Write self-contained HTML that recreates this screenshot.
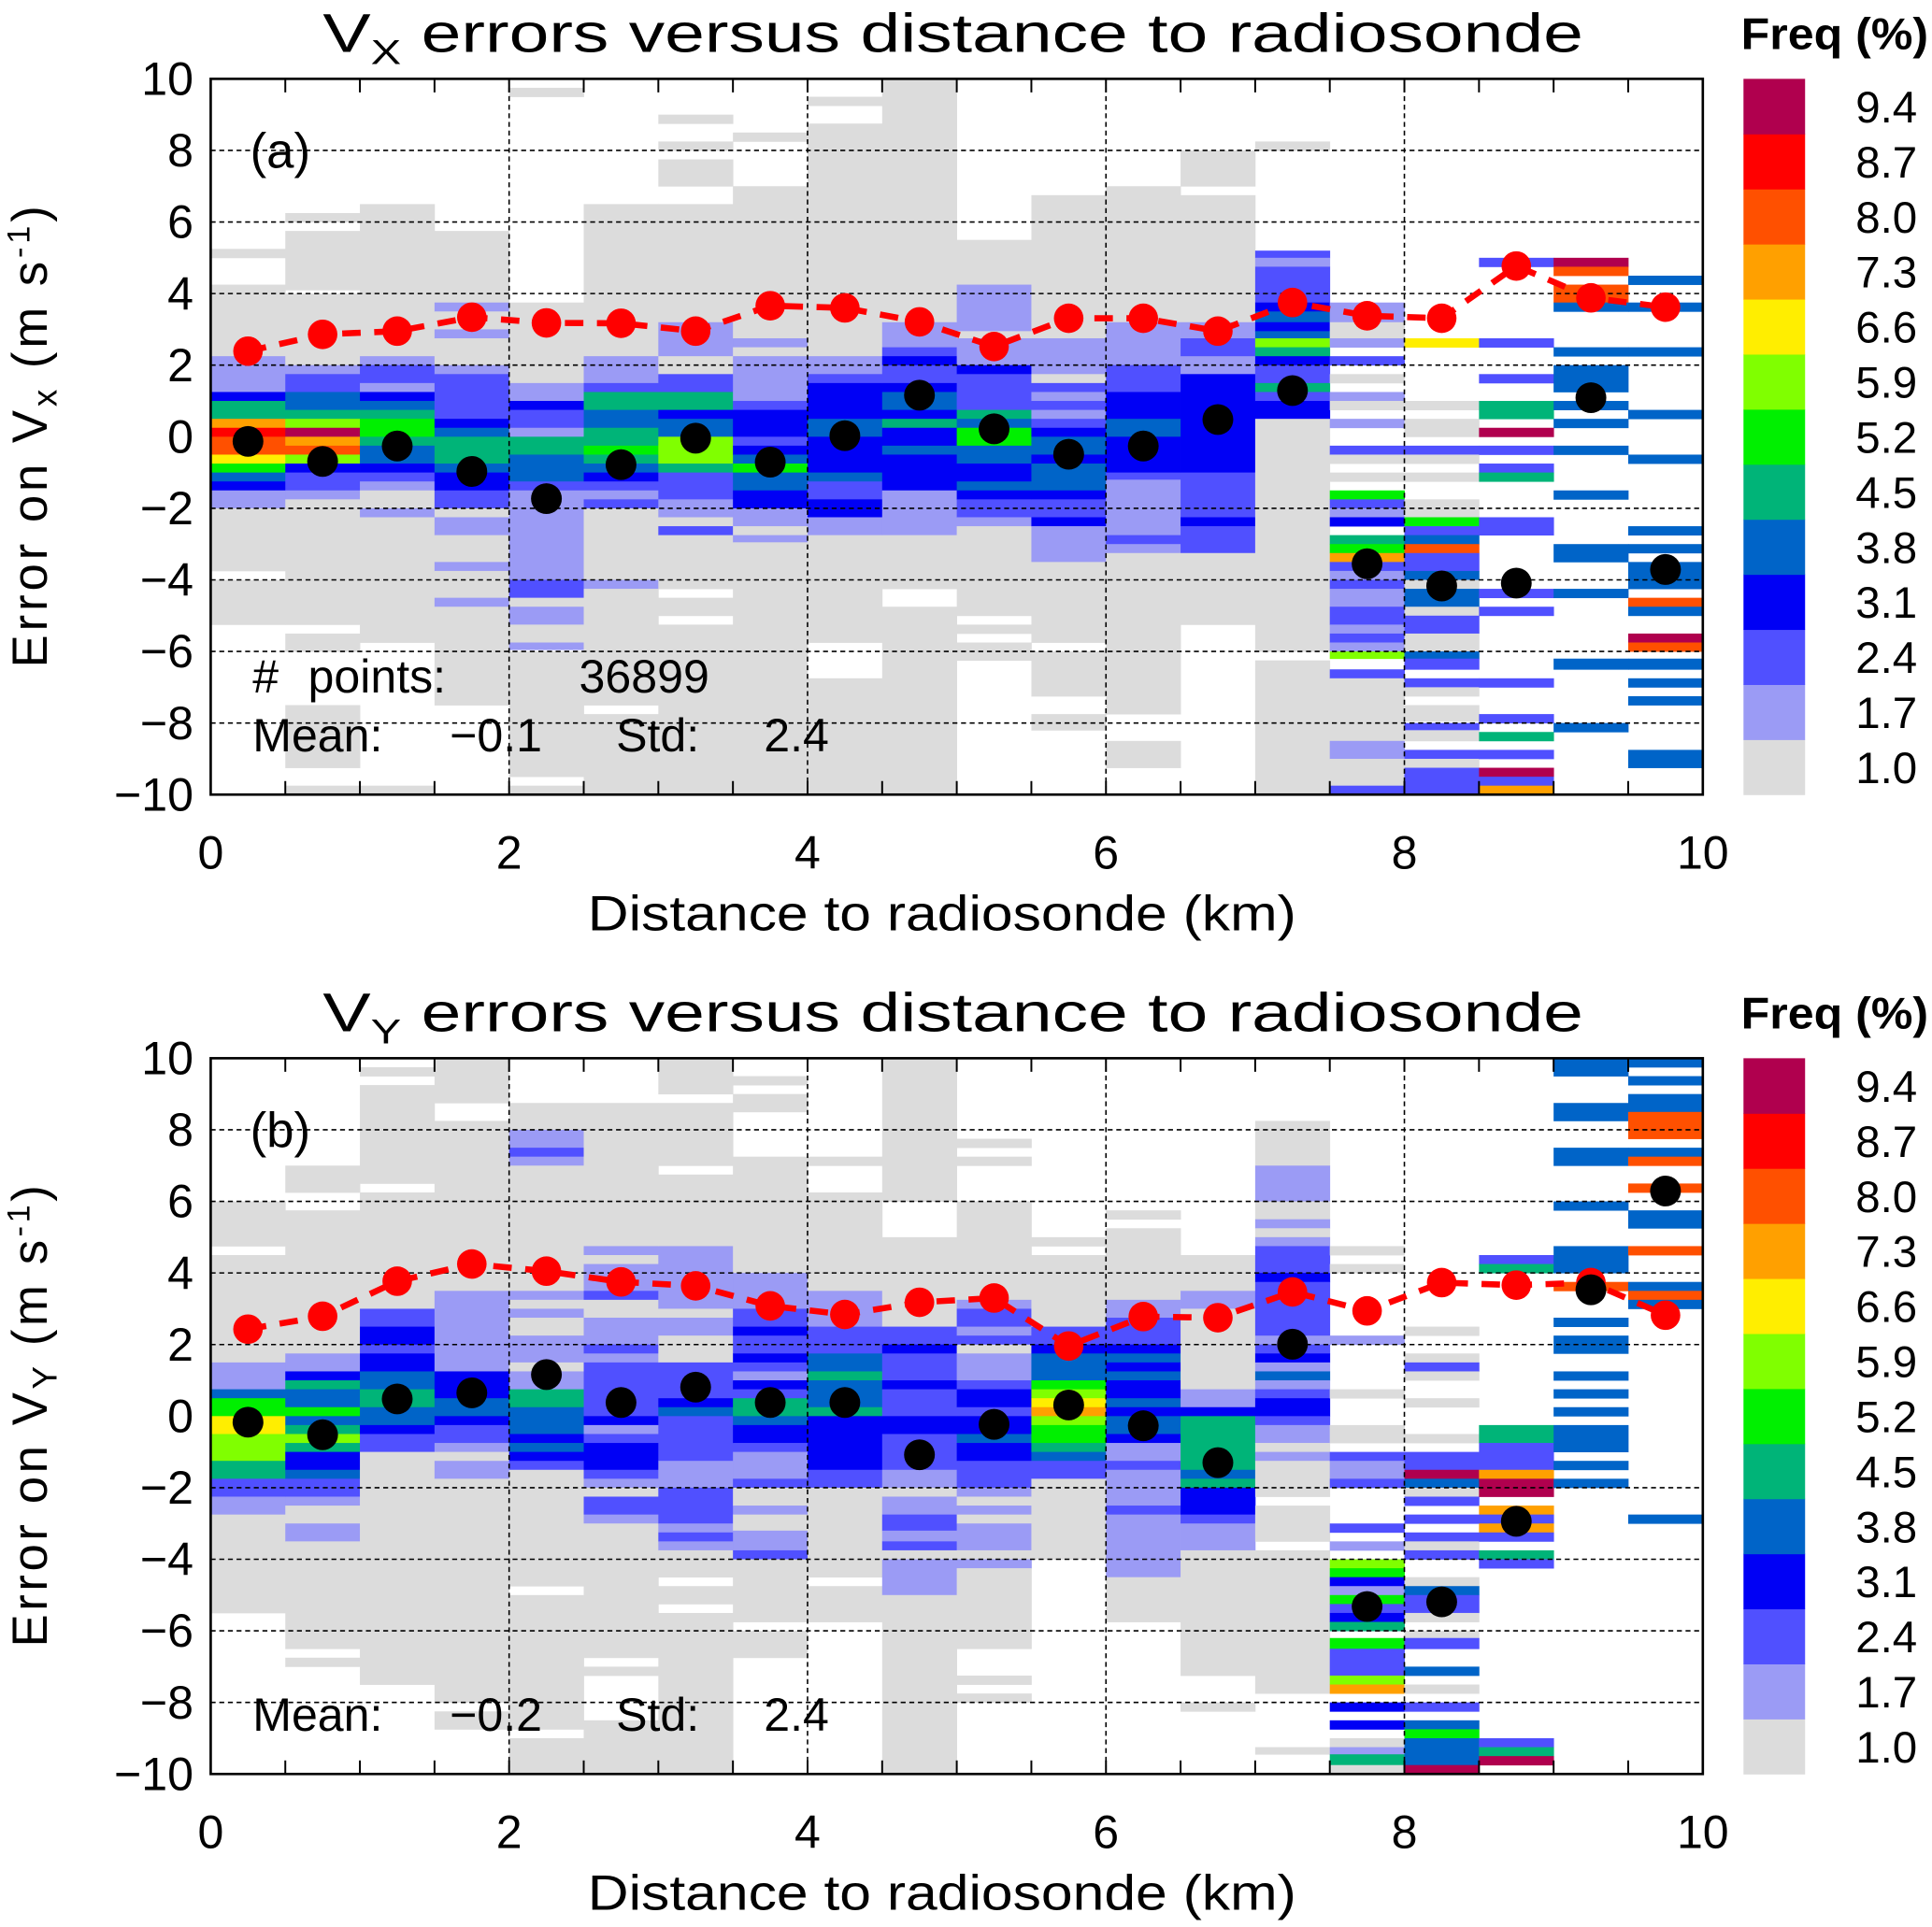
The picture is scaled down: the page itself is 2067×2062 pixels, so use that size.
<!DOCTYPE html>
<html><head><meta charset="utf-8"><style>
html,body{margin:0;padding:0;background:#fff}
svg{display:block}
text{font-family:"Liberation Sans",sans-serif;fill:#000}
</style></head><body>
<svg id="chart" width="2067" height="2062" viewBox="0 0 1568 1564.2" preserveAspectRatio="none" xmlns="http://www.w3.org/2000/svg"></svg>
<script>
// ---------------- data ----------------
const binCenters = [0.25,0.75,1.25,1.75,2.25,2.75,3.25,3.75,4.25,4.75,5.25,5.75,6.25,6.75,7.25,7.75,8.25,8.75,9.25,9.75];
const freqLabels = ["1.0","1.7","2.4","3.1","3.8","4.5","5.2","5.9","6.6","7.3","8.0","8.7","9.4"];
const xTicks = [0,2,4,6,8,10];
const yTicks = [-10,-8,-6,-4,-2,0,2,4,6,8,10];
const meanA = [-0.13,-0.69,-0.26,-0.97,-1.73,-0.78,-0.04,-0.71,0.03,1.16,0.22,-0.49,-0.26,0.48,1.29,-3.55,-4.17,-4.09,1.09,-3.71];
const stdA  = [2.39,2.86,2.95,3.34,3.18,3.17,2.95,3.66,3.6,3.21,2.52,3.31,3.31,2.95,3.75,3.38,3.31,4.77,3.88,3.62];
const meanB = [-0.17,-0.52,0.48,0.65,1.16,0.38,0.81,0.38,0.38,-1.08,-0.23,0.31,-0.27,-1.3,2.01,-5.32,-5.19,-2.94,3.53,6.29];
const stdB  = [2.43,2.79,3.77,4.25,4.05,3.75,3.64,3.08,2.84,3.18,3.3,1.96,2.78,2.75,3.47,2.94,3.73,3.66,3.73,2.82];
// runs per bin: [top, bottom, freq-level]
const cellsA = [
[[5.25,5,0],[4.25,2.25,0],[2.25,1.25,1],[1.25,1,3],[1,0.5,5],[0.5,0.25,9],[0.25,0,11],[0,-0.5,10],[-0.5,-0.75,8],[-0.75,-1,6],[-1,-1.25,4],[-1.25,-1.5,3],[-1.5,-2,1],[-2,-3.75,0],[-4,-5.25,0]],
[[6.25,6,0],[5.75,4.1,0],[4,2,0],[2,1.75,1],[1.75,1.25,2],[1.25,0.75,4],[0.75,0.5,5],[0.5,0.25,7],[0.25,0,12],[0,-0.25,9],[-0.25,-0.5,10],[-0.5,-0.75,7],[-0.75,-1,3],[-1,-1.5,2],[-1.5,-1.75,1],[-1.75,-5.25,0],[-5.5,-6,0],[-7.5,-9.25,0],[-9.75,-10,0]],
[[6.5,2.25,0],[2.25,2,1],[2,1.5,2],[1.5,1.25,1],[1.25,1,3],[1,0.75,4],[0.75,0.5,5],[0.5,0,6],[0,-0.25,5],[-0.25,-0.75,4],[-0.75,-1,3],[-1,-1.25,2],[-1.25,-1.5,1],[-1.5,-2,0],[-2,-2.25,1],[-2.25,-5.75,0],[-9.75,-10,0]],
[[5.75,3.75,0],[3.75,3.5,1],[3.5,3,0],[3,2.75,1],[2.75,2,0],[2,1.75,1],[1.75,0.5,2],[0.5,0.25,3],[0.25,0,4],[0,-0.75,5],[-0.75,-1,4],[-1,-1.5,3],[-1.5,-2,2],[-2,-2.25,0],[-2.25,-2.75,1],[-2.75,-3.5,0],[-3.5,-3.75,1],[-3.75,-4.5,0],[-4.5,-4.75,1],[-4.75,-7.5,0]],
[[9.75,9.5,0],[3.75,1.5,0],[1.5,1,1],[1,0.75,3],[0.75,0.25,2],[0.25,0,1],[0,-0.5,5],[-0.5,-1.25,4],[-1.25,-1.5,2],[-1.5,-4,1],[-4,-4.5,2],[-4.5,-4.75,0],[-4.75,-5.25,1],[-5.25,-5.75,0],[-5.75,-5.95,1],[-6,-9.5,0],[-9.75,-10,0]],
[[6.5,2.25,0],[2.25,1.5,1],[1.5,1.25,2],[1.25,0.75,5],[0.75,0.25,4],[0.25,-0.25,5],[-0.25,-0.5,6],[-0.5,-0.75,5],[-0.75,-1,4],[-1,-1.25,3],[-1.25,-1.5,2],[-1.5,-1.75,1],[-1.75,-2,2],[-2,-4,0],[-4,-4.25,1],[-4.25,-7.5,0],[-7.75,-10,0]],
[[9,8.75,0],[8.25,8,0],[7.75,7,0],[6.5,3.2,0],[3.2,2.25,1],[2.25,1.75,0],[1.75,1.25,2],[1.25,0.75,5],[0.75,0.5,3],[0.5,0,4],[0,-0.75,7],[-0.75,-1,5],[-1,-1.75,2],[-1.75,-2.25,1],[-2.25,-2.5,0],[-2.5,-2.75,2],[-2.75,-4.25,0],[-4.5,-5,0],[-5.25,-10,0]],
[[8.5,8.25,0],[7,2.75,0],[2.75,2.5,1],[2.5,2.25,0],[2.25,1,1],[1,0.75,2],[0.75,0,3],[0,-0.25,2],[-0.25,-0.5,3],[-0.5,-0.75,4],[-0.75,-1,6],[-1,-1.5,4],[-1.5,-2,3],[-2,-2.5,1],[-2.5,-2.75,0],[-2.75,-2.95,1],[-2.95,-10,0]],
[[9.5,9.25,0],[8.75,2.25,0],[2.25,1.75,1],[1.75,1.5,2],[1.5,0.5,3],[0.5,0,4],[0,-1,3],[-1,-1.25,4],[-1.25,-1.75,2],[-1.75,-2.25,3],[-2.25,-2.75,1],[-2.75,-5.75,0],[-6.75,-10,0]],
[[10,3.2,0],[3.2,2.5,1],[2.5,2.25,2],[2.25,2,3],[2,1.5,2],[1.5,1.25,3],[1.25,0.75,4],[0.75,0.5,3],[0.5,0.25,5],[0.25,-0.25,3],[-0.25,-0.5,4],[-0.5,-1.5,3],[-1.5,-2.75,1],[-2.75,-4.25,0],[-4.75,-10,0]],
[[5.5,4.25,0],[4.25,2.95,1],[2.95,2.75,0],[2.75,2,1],[2,1.75,3],[1.75,0.75,2],[0.75,0.5,5],[0.5,0.25,4],[0.25,-0.25,6],[-0.25,-0.75,4],[-0.75,-1.25,3],[-1.25,-1.5,4],[-1.5,-1.75,3],[-1.75,-2.25,2],[-2.25,-2.5,1],[-2.5,-5,0],[-5.25,-5.5,0],[-5.75,-6.25,0]],
[[6.75,2.75,0],[2.75,1.75,1],[1.75,1.5,0],[1.5,1.25,2],[1.25,1,1],[1,0.75,2],[0.75,0.5,1],[0.5,0.25,2],[0.25,0,3],[0,-0.5,4],[-0.5,-0.75,3],[-0.75,-1.5,4],[-1.5,-1.75,3],[-1.75,-2.25,2],[-2.25,-2.5,3],[-2.5,-3.5,1],[-3.5,-5.75,0],[-6,-7.25,0],[-7.75,-8.2,0]],
[[7,6.5,0],[6.5,3.2,0],[3.2,2,1],[2,1.25,2],[1.25,0.5,3],[0.5,0,4],[0,-1,3],[-1,-1.2,2],[-1.2,-2.75,1],[-2.75,-3,2],[-3,-3.25,1],[-3.25,-7.75,0],[-8.5,-9.25,0]],
[[8,7,0],[6.75,3.2,0],[3.2,2.75,1],[2.75,2.25,2],[2.25,1.75,1],[1.75,-1,3],[-1,-2.25,2],[-2.25,-2.5,3],[-2.5,-3.25,2],[-3.25,-5.25,0]],
[[8.25,8,0],[5.2,5,2],[5,4.75,1],[4.75,3.75,2],[3.75,3.5,3],[3.5,3.2,4],[3.2,2.95,3],[2.95,2.75,4],[2.75,2.5,7],[2.5,2.25,5],[2.25,2,3],[2,1.5,2],[1.5,1.25,5],[1.25,1,2],[1,0.5,3],[0.5,-6,0],[-6.25,-6.5,0],[-6.5,-10,0]],
[[3.75,3.2,1],[3.2,2.75,0],[2.75,2.5,1],[2.25,2,2],[1.75,1.5,0],[1.25,1,1],[1,0.75,0],[0.5,0.25,1],[-0.25,-0.5,2],[-0.5,-0.75,0],[-1,-1.25,0],[-1.5,-1.75,6],[-1.75,-2,2],[-2,-2.25,1],[-2.25,-2.5,3],[-2.75,-3,5],[-3,-3.25,6],[-3.25,-3.5,9],[-3.5,-3.75,2],[-3.75,-4,1],[-4,-4.25,2],[-4.25,-4.75,1],[-4.75,-5.25,2],[-5.25,-5.5,1],[-5.5,-5.75,2],[-5.75,-6,1],[-6,-6.2,7],[-6.5,-6.75,2],[-6.75,-8.5,0],[-8.5,-9,1],[-9,-9.75,0],[-9.75,-10,2]],
[[2.75,2.5,8],[1,0.75,0],[0.5,0,0],[-0.25,-0.5,2],[-0.5,-0.75,0],[-1,-1.25,0],[-1.75,-2.25,0],[-2.25,-2.5,6],[-2.5,-2.75,2],[-2.75,-3,4],[-3,-3.25,10],[-3.25,-3.75,2],[-3.75,-4,4],[-4,-4.25,0],[-4.25,-4.75,4],[-4.75,-5,0],[-5,-5.5,2],[-5.5,-6,0],[-6,-6.2,4],[-6.2,-6.5,2],[-6.75,-7,2],[-7,-7.25,0],[-7.5,-7.95,0],[-8,-8.2,2],[-8.2,-8.5,0],[-8.75,-9,2],[-9,-9.25,0],[-9.25,-10,2]],
[[5,4.75,2],[2.75,2.5,2],[1.75,1.5,2],[1,0.5,5],[0.25,0,12],[-0.25,-0.5,2],[-0.75,-1,2],[-1,-1.25,5],[-2.25,-2.75,2],[-4.25,-4.5,2],[-4.75,-5,2],[-6.75,-7,2],[-7.75,-8,2],[-8.25,-8.5,5],[-8.75,-9,2],[-9.25,-9.5,12],[-9.5,-9.75,2],[-9.75,-10,9]],
[[5,4.75,12],[4.75,4.5,10],[4.25,3.75,10],[3.75,3.5,4],[2.5,2.25,4],[2,1.25,4],[1,0.75,4],[0.5,0.25,4],[-0.25,-0.5,4],[-1.5,-1.75,4],[-3,-3.5,4],[-4.25,-4.5,4],[-6.2,-6.5,4],[-8,-8.25,4]],
[[4.5,4.25,4],[3.75,3.5,4],[2.5,2.25,4],[0.75,0.5,4],[-0.5,-0.75,4],[-2.5,-2.75,4],[-3,-3.25,4],[-3.5,-4.25,4],[-4.5,-4.75,10],[-4.75,-5,4],[-5.5,-5.75,12],[-5.75,-6,10],[-6.2,-6.5,4],[-6.75,-7,4],[-7.25,-7.5,4],[-8.75,-9.25,4]]
];
const cellsB = [
[[6,4.75,0],[4.5,1.5,0],[1.5,0.75,1],[0.75,0.5,4],[0.5,0,6],[0,-0.5,8],[-0.5,-1.25,7],[-1.25,-1.75,5],[-1.75,-2.25,2],[-2.25,-2.75,1],[-2.75,-5.5,0]],
[[7,6.25,0],[5.75,1.75,0],[1.75,1.25,1],[1.25,1,3],[1,0.75,5],[0.75,0.25,4],[0.25,0,6],[0,-0.25,4],[-0.25,-0.5,5],[-0.5,-0.75,7],[-0.75,-1,5],[-1,-1.5,3],[-1.5,-1.75,4],[-1.75,-2.25,2],[-2.25,-2.5,1],[-2.5,-3,0],[-3,-3.5,1],[-3.5,-6.5,0],[-6.75,-7,0]],
[[9.75,9.5,0],[9.25,6.5,0],[6.25,3,0],[3,2.5,2],[2.5,2,3],[2,1.75,2],[1.75,1.25,3],[1.25,0.75,4],[0.75,0.25,5],[0.25,-0.25,4],[-0.25,-0.5,3],[-0.5,-1,2],[-1,-7.5,0]],
[[10,8.75,0],[8.25,3.5,0],[3.5,1.25,1],[1.25,0.5,3],[0.5,0,4],[0,-0.25,3],[-0.25,-0.75,2],[-0.75,-1,1],[-1,-1.25,0],[-1.25,-1.75,1],[-1.75,-8,0],[-8.25,-8.75,0]],
[[8.75,8,0],[8,7.5,1],[7.5,7.25,2],[7.25,7,1],[7,3.5,0],[3.5,3.25,1],[3.25,3,0],[3,2.75,1],[2.75,2.25,0],[2.25,1.5,1],[1.5,1.25,0],[1.25,0.75,1],[0.75,0.25,5],[0.25,-0.5,4],[-0.5,-0.75,3],[-0.75,-1,4],[-1,-1.25,3],[-1.25,-1.5,2],[-1.5,-4.75,0],[-5,-8.75,0],[-9,-10,0]],
[[8.75,4.75,0],[4.75,4.5,1],[4.5,4.25,0],[4.25,3.5,1],[3.5,3.25,2],[3.25,2.75,0],[2.75,2,1],[2,1.75,2],[1.75,1.5,1],[1.5,0,2],[0,-0.25,3],[-0.25,-0.5,1],[-0.5,-0.75,2],[-0.75,-1.5,3],[-1.5,-1.75,2],[-1.75,-2,1],[-2,-2.25,0],[-2.25,-2.75,2],[-2.75,-3,1],[-3,-6.75,0],[-7,-7.25,0],[-8.5,-10,0]],
[[10,9,0],[8.75,7,0],[6.75,4.75,0],[4.75,3,1],[3,2.75,0],[2.75,2.25,1],[2.25,1.5,0],[1.5,0.5,2],[0.5,0.25,3],[0.25,0,4],[0,-1.25,2],[-1.25,-2,1],[-2,-3,2],[-3,-3.25,1],[-3.25,-3.5,2],[-3.5,-3.75,1],[-3.75,-4.5,0],[-4.75,-5.25,0],[-5.5,-10,0]],
[[9.5,9.25,0],[9,8.5,0],[7.25,4,0],[4,3,1],[3,2.5,2],[2.5,2.25,3],[2.25,1.75,2],[1.75,1.5,3],[1.5,1.25,2],[1.25,1,1],[1,0.75,3],[0.75,0.5,2],[0.5,0,5],[0,-0.25,4],[-0.25,-0.75,3],[-0.75,-1,2],[-1,-1.75,1],[-1.75,-2,2],[-2,-2.5,0],[-2.5,-2.75,1],[-2.75,-3.2,0],[-3.2,-3.75,1],[-3.75,-4,2],[-4,-5.75,0],[-6,-6.75,0]],
[[7.25,7,0],[6.25,3.5,0],[3.5,2.5,1],[2.5,1.75,2],[1.75,1.25,4],[1.25,1,5],[1,0.25,4],[0.25,0,5],[0,-1.5,3],[-1.5,-2,2],[-2,-4.5,0],[-4.75,-5.75,0]],
[[10,6,0],[5,2.5,0],[2.5,2,2],[2,1.75,3],[1.75,1,2],[1,0.75,3],[0.75,0,2],[0,-0.5,3],[-0.5,-1.5,2],[-1.5,-2,1],[-2,-2.25,0],[-2.25,-2.75,1],[-2.75,-3.2,2],[-3.2,-3.5,1],[-3.5,-3.75,2],[-3.75,-4,0],[-4,-5,1],[-5,-10,0]],
[[7.75,7.5,0],[7.25,7,0],[6,3.25,0],[3.25,3,1],[3,2.5,2],[2.5,2.25,1],[2.25,2,2],[2,1.75,0],[1.75,1,1],[1,0.75,2],[0.75,0.25,3],[0.25,0,2],[0,-0.5,3],[-0.5,-0.75,4],[-0.75,-1.25,3],[-1.25,-2,2],[-2,-2.25,1],[-2.25,-2.5,0],[-2.5,-2.75,1],[-2.75,-3,0],[-3,-3.75,1],[-3.75,-4,0],[-4,-4.25,1],[-4.25,-6.5,0],[-7.25,-7.5,0],[-7.75,-8,0]],
[[5,4.75,0],[4.5,2.5,0],[2.5,2,2],[2,1.75,3],[1.75,1,4],[1,0.75,6],[0.75,0.5,7],[0.5,0.25,8],[0.25,0,9],[0,-0.25,7],[-0.25,-0.75,6],[-0.75,-1,5],[-1,-1.25,4],[-1.25,-1.75,2],[-1.75,-4,0]],
[[5.75,5.5,0],[5.25,3.25,0],[3.25,2.75,1],[2.75,2,2],[2,1.75,3],[1.75,1.5,4],[1.5,1.25,3],[1.25,1,4],[1,0.5,3],[0.5,0.25,4],[0.25,0,3],[0,-0.5,4],[-0.5,-0.75,3],[-0.75,-1.25,1],[-1.25,-1.5,2],[-1.5,-2.5,1],[-2.5,-2.75,2],[-2.75,-4.5,1],[-4.5,-5.75,0]],
[[4.5,3.5,0],[3.5,3,1],[3,0.75,0],[0.75,0.25,1],[0.25,0,3],[0,-1.5,5],[-1.5,-1.75,4],[-1.75,-2,5],[-2,-2.75,3],[-2.75,-3,2],[-3,-3.75,1],[-3.75,-7.25,0],[-8,-8.25,0]],
[[8.25,7,0],[7,6,1],[6,5.5,0],[5.5,5.25,1],[5.25,5,0],[5,4.75,1],[4.75,4,2],[4,3.75,3],[3.75,2.25,2],[2.25,2,1],[2,1.75,2],[1.75,1.5,3],[1.5,1.25,1],[1.25,1,4],[1,0.75,1],[0.75,0.5,2],[0.5,0,3],[0,-0.25,2],[-0.25,-0.75,1],[-0.75,-1,0],[-1,-1.25,1],[-1.25,-2.25,0],[-2.5,-3.5,0],[-3.75,-7.75,0],[-9.25,-9.45,0]],
[[4.75,4.5,0],[4.25,4,0],[2.25,2,1],[0.75,0.5,0],[-0.25,-0.75,0],[-1,-1.25,2],[-1.25,-1.75,1],[-1.75,-2,2],[-3,-3.25,2],[-3.5,-3.75,1],[-4,-4.25,7],[-4.25,-4.5,6],[-4.5,-4.75,3],[-4.75,-5,1],[-5,-5.25,6],[-5.25,-5.5,2],[-5.5,-5.75,3],[-5.75,-6,5],[-6.2,-6.5,6],[-6.5,-7.25,2],[-7.25,-7.5,7],[-7.5,-7.75,9],[-8,-8.25,3],[-8.5,-8.75,3],[-9,-9.25,0],[-9.25,-9.45,1],[-9.45,-9.75,5],[-9.75,-10,0]],
[[2.5,2.25,0],[1.75,1.5,0],[1.5,1.25,2],[1.25,1,0],[0.5,0.25,0],[-0.5,-0.75,0],[-1,-1.5,2],[-1.5,-1.75,12],[-1.75,-2,4],[-2,-2.25,0],[-2.25,-2.5,2],[-2.75,-3,2],[-3.25,-3.5,2],[-3.5,-3.75,0],[-3.75,-4,2],[-4.5,-4.75,0],[-4.75,-5,4],[-5,-5.5,2],[-5.5,-5.75,0],[-6,-6.2,0],[-6.2,-6.5,2],[-7,-7.25,4],[-7.5,-7.75,0],[-8,-8.25,2],[-8.5,-8.75,4],[-8.75,-9,6],[-9,-9.75,4],[-9.75,-10,12]],
[[4.5,4.25,2],[4.25,4,5],[-0.25,-0.75,5],[-0.75,-1.5,2],[-1.5,-1.75,9],[-1.75,-2.25,12],[-2.5,-2.75,9],[-2.75,-3,2],[-3,-3.25,9],[-3.25,-3.5,2],[-3.75,-4,5],[-4,-4.25,2],[-9,-9.25,2],[-9.25,-9.5,5],[-9.5,-9.75,12]],
[[10,9.5,4],[8.75,8.25,4],[7.5,7,4],[6,5.75,4],[4.75,4,4],[3.75,3.5,10],[2.75,2.5,4],[2.25,1.75,4],[1.25,1,4],[0.75,0.5,4],[0.25,0,4],[-0.25,-1,4],[-1.25,-1.5,4],[-1.75,-2,4]],
[[10,9.75,4],[9.5,9.25,4],[9,8.5,4],[8.5,7.75,10],[7.5,7.25,4],[7.25,7,10],[6.5,6.25,10],[5.75,5.25,4],[4.75,4.5,10],[3.75,3.5,4],[3.5,3.25,10],[3.25,3,4],[-2.75,-3,4]]
];
// ---------------- drawing ----------------
const palette = ["#dcdcdc","#9b9bf5","#5050ff","#0000f5","#0064c8","#00b478","#00f000","#80ff00","#ffee00","#ffa000","#ff5000","#ff0000","#b0004e"];
const NS = "http://www.w3.org/2000/svg";
const svg = document.getElementById("chart");
function mk(tag, attrs, parent, txt){
  const e = document.createElementNS(NS, tag);
  for (const k in attrs) e.setAttribute(k, attrs[k]);
  if (txt !== undefined) e.textContent = txt;
  (parent || svg).appendChild(e);
  return e;
}
const X0 = 171, X1 = 1382;
function drawPanel(cfg){
  const top = cfg.top, bot = cfg.top + 581;
  const xs = v => X0 + (v / 10) * (X1 - X0);
  const ys = v => top + (10 - v) / 20 * (bot - top);
  const g = mk("g", {});
  
  
  const hm = mk("g", {}, g);
  
  
  cfg.cells.forEach((col, i) => {
    const xc = binCenters[i];
    col.forEach(r => {
      const y1 = ys(r[0]), y2 = ys(r[1]);
      const rc = mk("rect", {x: xs(xc - 0.25), y: y1, width: xs(xc + 0.25) - xs(xc - 0.25) + 0.3, height: y2 - y1 + 0.3, fill: palette[r[2]]}, hm);
      
      
    });
  });
  [-8,-6,-4,-2,2,4,6,8].forEach(v => {
    const l = mk("line", {x1: X0, x2: X1, y1: ys(v), y2: ys(v), stroke: "#000", "stroke-width": 1.2, "stroke-dasharray": "4,3"}, g);
    
    
  });
  [2,4,6,8].forEach(v => {
    const l = mk("line", {x1: xs(v), x2: xs(v), y1: top, y2: bot, stroke: "#000", "stroke-width": 1.2, "stroke-dasharray": "4,3"}, g);
    
    
  });
  for (let k = 1; k < 20; k++) {
    const x = xs(k * 0.5);
    mk("line", {x1: x, x2: x, y1: top, y2: top + 11, stroke: "#000", "stroke-width": 1.5}, g);
    mk("line", {x1: x, x2: x, y1: bot, y2: bot - 11, stroke: "#000", "stroke-width": 1.5}, g);
  }
  const fr = mk("rect", {x: X0, y: top, width: X1 - X0, height: bot - top, fill: "none", stroke: "#000", "stroke-width": 2}, g);
  
  
  const pts = cfg.std.map((v, i) => xs(binCenters[i]) + "," + ys(v)).join(" ");
  const pl = mk("polyline", {points: pts, fill: "none", stroke: "#ff0000", "stroke-width": 5, "stroke-dasharray": "15,11"}, g);
  
  
  cfg.std.forEach((v, i) => {
    const c = mk("circle", {cx: xs(binCenters[i]), cy: ys(v), r: 12, fill: "#ff0000"}, g);
    
    
  });
  cfg.mean.forEach((v, i) => {
    const c = mk("circle", {cx: xs(binCenters[i]), cy: ys(v), r: 12.5, fill: "#000"}, g);
    
    
  });
  yTicks.forEach(v => {
    const t = mk("text", {x: 157, y: ys(v) + 13, "text-anchor": "end", "font-size": 38}, g, (v < 0 ? "\u2212" : "") + Math.abs(v));
    
    
  });
  xTicks.forEach(v => {
    const t = mk("text", {x: xs(v), y: bot + 60, "text-anchor": "middle", "font-size": 38}, g, String(v));
    
    
  });
  const tt = mk("text", {x: 262, y: top - 22, "font-size": 44, textLength: 1023, lengthAdjust: "spacingAndGlyphs"}, g);
  
  
  mk("tspan", {}, tt, "V");
  mk("tspan", {"font-size": 28, dy: 10}, tt, cfg.sub);
  mk("tspan", {dy: -10}, tt, " errors  versus  distance  to  radiosonde");
  const xt = mk("text", {x: 477, y: bot + 110, "font-size": 40, textLength: 575, lengthAdjust: "spacingAndGlyphs"}, g, "Distance  to  radiosonde  (km)");
  
  
  const cy = (top + bot) / 2;
  const yt = mk("text", {x: 0, y: 0, "font-size": 40, transform: `translate(38,${cy}) rotate(-90)`, "text-anchor": "middle", textLength: 375, lengthAdjust: "spacing"}, g);
  
  
  mk("tspan", {}, yt, "Error on V");
  mk("tspan", {"font-size": 28, dy: 8}, yt, cfg.sub === "X" ? "x" : "Y");
  mk("tspan", {dy: -8}, yt, " (m s");
  mk("tspan", {"font-size": 26, dy: -14}, yt, "-1");
  mk("tspan", {dy: 14}, yt, ")");
  const pl2 = mk("text", {x: 203, y: top + 72, "font-size": 40}, g, cfg.label);
  
  
  cfg.stats.forEach(s => {
    const t = mk("text", {x: s[0], y: top + s[1], "font-size": 38}, g, s[2]);
    
    
  });
  const cb = mk("g", {}, g);
  
  
  const bh = (bot - top) / 13;
  freqLabels.forEach((lab, k) => {
    const yb = bot - (k + 1) * bh;
    mk("rect", {x: 1415, y: yb, width: 50, height: bh + 0.4, fill: palette[k]}, cb);
    const t = mk("text", {x: 1556, y: yb + bh / 2 + 13, "text-anchor": "end", "font-size": 36}, cb, lab);
    
    
  });
  const ft = mk("text", {x: 1413, y: top - 24, "font-size": 36, "font-weight": "bold", textLength: 152, lengthAdjust: "spacingAndGlyphs"}, g, "Freq (%)");
  
  
}
drawPanel({name: "panel-a", top: 64, cells: cellsA, mean: meanA, std: stdA, sub: "X", label: "(a)",
  stats: [[205, 498, "#"], [250, 498, "points:"], [470, 498, "36899"],
          [205, 546, "Mean:"], [365, 546, "\u22120.1"], [500, 546, "Std:"], [620, 546, "2.4"]]});
drawPanel({name: "panel-b", top: 859, cells: cellsB, mean: meanB, std: stdB, sub: "Y", label: "(b)",
  stats: [[205, 546, "Mean:"], [365, 546, "\u22120.2"], [500, 546, "Std:"], [620, 546, "2.4"]]});
</script>
</body></html>
